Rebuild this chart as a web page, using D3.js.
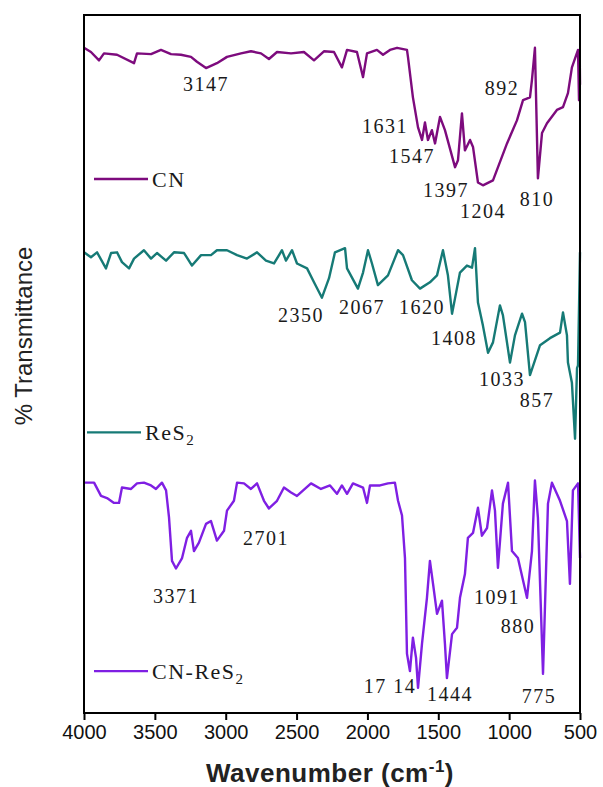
<!DOCTYPE html>
<html>
<head>
<meta charset="utf-8">
<script src="https://cdn.jsdelivr.net/npm/d3@7"></script>
<style>
  body { margin: 0; background: #fff; }
  svg { display: block; }
</style>
</head>
<body>
<div id="graph"></div>
<script>
// spectra (wavenumber in cm-1, offset %T)
const cnWave = [4000,3951,3894,3859,3767,3647,3626,3527,3457,3386,3316,3245,3203,3139,3062,2991,2892,2822,2751,2695,2638,2539,2448,2377,2307,2236,2180,2144,2074,2031,2003,1933,1890,1841,1791,1721,1714,1679,1643,1615,1594,1573,1545,1523,1488,1453,1382,1361,1333,1312,1276,1255,1220,1185,1114,1015,945,902,853,839,818,797,768,733,663,620,585,557,514,507,502,500];
const cnT = [95.3,94.7,93.5,94.5,94.3,93.1,94.5,94.4,95.0,94.4,94.3,94.0,93.3,92.4,93.1,94.0,94.5,94.8,94.5,93.7,94.7,94.5,94.7,93.5,94.8,94.7,92.5,95.0,94.7,91.1,94.5,95.0,94.3,95.0,95.3,95.0,94.0,88.2,83.9,82.1,84.6,82.1,83.5,81.6,85.4,83.5,78.2,79.2,85.9,80.6,82.1,81.1,76.0,75.6,76.3,81.6,84.9,87.8,88.2,90.7,95.3,76.6,83.1,84.5,86.4,86.8,88.8,92.5,95.0,87.8,94.3,90.0];

const res2Wave = [4000,3951,3908,3845,3809,3767,3732,3682,3647,3577,3527,3485,3421,3365,3294,3238,3174,3104,3062,2991,2920,2850,2779,2716,2659,2603,2575,2532,2497,2426,2377,2321,2271,2229,2158,2144,2067,2031,1996,1968,1926,1855,1784,1749,1686,1629,1559,1509,1467,1432,1403,1382,1347,1298,1262,1241,1220,1185,1149,1114,1065,1044,994,959,909,888,853,782,712,641,620,592,585,557,535,521,514,500];
const res2T = [66.0,65.3,66.0,63.7,65.9,66.0,64.6,63.7,65.1,66.3,65.1,65.9,64.8,66.0,65.9,64.1,65.6,65.6,66.3,66.3,65.6,65.1,66.0,64.8,64.4,66.3,64.8,66.3,64.4,63.7,61.7,59.5,62.3,66.0,66.6,63.7,60.8,63.1,66.3,64.4,61.3,62.7,66.3,65.6,62.0,60.8,61.7,62.7,66.3,62.7,57.2,59.4,63.1,64.1,63.8,66.6,58.8,55.5,51.6,53.1,58.4,57.0,50.2,54.1,57.2,56.0,48.4,52.7,53.7,54.5,57.4,54.1,50.2,47.3,39.3,49.4,49.8,66.0];

const cnres2Wave = [4000,3929,3880,3838,3788,3753,3732,3668,3626,3577,3527,3492,3450,3421,3400,3379,3351,3308,3273,3245,3224,3189,3139,3104,3062,3012,2991,2942,2920,2871,2822,2779,2730,2695,2638,2589,2539,2497,2398,2328,2264,2215,2180,2144,2102,2031,2003,1982,1911,1855,1806,1784,1756,1735,1721,1700,1679,1657,1643,1615,1580,1559,1537,1509,1474,1453,1439,1403,1368,1347,1312,1291,1255,1220,1192,1156,1121,1100,1079,1044,1008,980,938,874,839,818,797,761,726,698,641,592,571,550,514,500];
const cnres2T = [33.0,33.0,31.1,30.8,30.1,30.1,32.3,32.1,32.9,33.0,32.6,32.1,33.0,31.9,28.0,21.8,20.7,22.2,25.1,26.1,23.2,24.4,27.1,27.5,24.7,26.1,29.0,30.4,33.0,32.9,32.1,32.9,30.4,29.3,30.4,32.3,31.6,31.1,32.9,32.1,32.6,31.4,32.6,31.4,32.9,32.3,30.1,32.6,32.6,32.9,33.0,30.4,28.3,22.2,8.5,6.0,10.8,7.9,3.6,9.9,16.5,21.8,18.5,14.2,16.1,9.9,5.0,11.3,12.2,16.5,19.9,25.1,25.8,29.4,25.4,26.5,31.9,29.0,20.8,30.0,33.0,23.2,22.2,16.5,23.2,33.3,28.0,5.6,30.0,33.0,30.4,27.5,18.5,31.9,32.9,22.2];

// peak labels: text, wavenumber and %T of the label
const peakText = ["3147","1631","1547","1397","1204","892","810",
                  "2350","2067","1620","1408","1033","857",
                  "3371","2701","17 14","1444","1091","880","775"];
const peakWave = [3139,1876,1686,1446,1185,1051,804,
                  2469,2038,1615,1389,1051,804,
                  3351,2716,1841,1417,1086,938,790];
const peakT = [89.1,83.1,78.8,73.9,70.9,88.5,72.7,
               56.0,57.2,57.2,52.7,46.9,43.8,
               15.8,24.0,2.9,1.7,15.6,11.5,1.4];

const xTicks = [4000,3500,3000,2500,2000,1500,1000,500];

const width = 603, height = 787;
const margin = {top: 15, right: 23, bottom: 74, left: 84};
const plotW = width - margin.left - margin.right;
const plotH = height - margin.top - margin.bottom;

let svg = d3.select("#graph")
    .append("svg")
    .attr("width", width)
    .attr("height", height);

let g = svg.append("g")
    .attr("transform", `translate(${margin.left},${margin.top})`);

let x = d3.scaleLinear().domain([4000, 500]).range([0, plotW]);
let y = d3.scaleLinear().domain([0, 100]).range([plotH, 0]);

const series = [
    {name: "CN", sub: "", wave: cnWave, t: cnT, color: "#7d0b7d", legT: 76.5},
    {name: "ReS", sub: "2", wave: res2Wave, t: res2T, color: "#167a76", legT: 40.2},
    {name: "CN-ReS", sub: "2", wave: cnres2Wave, t: cnres2T, color: "#7f1fe3", legT: 6.0}
];

let line = d3.line()
    .x(d => x(d[0]))
    .y(d => y(d[1]));

series.forEach(function(s) {
    let pts = s.wave.map((w, i) => [w, s.t[i]]);
    g.append("path")
        .datum(pts)
        .attr("fill", "none")
        .attr("stroke", s.color)
        .attr("stroke-width", 2.4)
        .attr("stroke-linejoin", "round")
        .attr("d", line);

    // legend entry inside the plot
    let ly = y(s.legT);
    let lx0 = s.name === "ReS" ? 3 : 10;
    g.append("line")
        .attr("x1", lx0).attr("x2", lx0 + 54)
        .attr("y1", ly).attr("y2", ly)
        .attr("stroke", s.color)
        .attr("stroke-width", 2.4);
    let t = g.append("text")
        .attr("x", lx0 + 58)
        .attr("y", ly + 8)
        .style("font-family", "'Liberation Serif', 'Times New Roman', serif")
        .style("font-size", "22px")
        .style("letter-spacing", "1.5px")
        .style("fill", "#1a1a1a")
        .text(s.name);
    if (s.sub) {
        t.append("tspan")
            .attr("dy", 5)
            .style("font-size", "15px")
            .text(s.sub);
    }
});

// peak annotations
g.selectAll(".peak")
    .data(peakText)
    .enter()
    .append("text")
    .attr("class", "peak")
    .attr("x", (d, i) => x(peakWave[i]))
    .attr("y", (d, i) => y(peakT[i]))
    .style("text-anchor", "middle")
    .style("font-family", "'Liberation Serif', 'Times New Roman', serif")
    .style("font-size", "20px")
    .style("letter-spacing", "1.5px")
    .style("fill", "#1a1a1a")
    .text(d => d);

// frame
g.append("rect")
    .attr("width", plotW)
    .attr("height", plotH)
    .attr("fill", "none")
    .attr("stroke", "#000")
    .attr("stroke-width", 2);

// x axis
let xAxis = g.append("g")
    .attr("transform", `translate(0,${plotH})`)
    .call(d3.axisBottom(x).tickValues(xTicks).tickSize(7).tickPadding(5).tickFormat(d3.format("d")));
xAxis.select(".domain").remove();
xAxis.selectAll("line").attr("stroke", "#000").attr("stroke-width", 2);
xAxis.selectAll("text")
    .style("font-family", "'Liberation Sans', Arial, sans-serif")
    .style("font-size", "20px")
    .style("fill", "#111");

// axis titles
let xt = svg.append("text")
    .attr("x", 330)
    .attr("y", 782)
    .style("text-anchor", "middle")
    .style("font-family", "'Liberation Sans', Arial, sans-serif")
    .style("font-size", "26px")
    .style("font-weight", "bold")
    .style("letter-spacing", "0.5px")
    .style("fill", "#222")
    .text("Wavenumber (cm");
xt.append("tspan").attr("dy", -10).style("font-size", "17px").text("-1");
xt.append("tspan").attr("dy", 10).text(")");

svg.append("text")
    .attr("transform", `translate(32,${336}) rotate(-90)`)
    .style("text-anchor", "middle")
    .style("font-family", "'Liberation Sans', Arial, sans-serif")
    .style("font-size", "24px")
    .style("fill", "#222")
    .text("% Transmittance");
</script>
</body>
</html>
